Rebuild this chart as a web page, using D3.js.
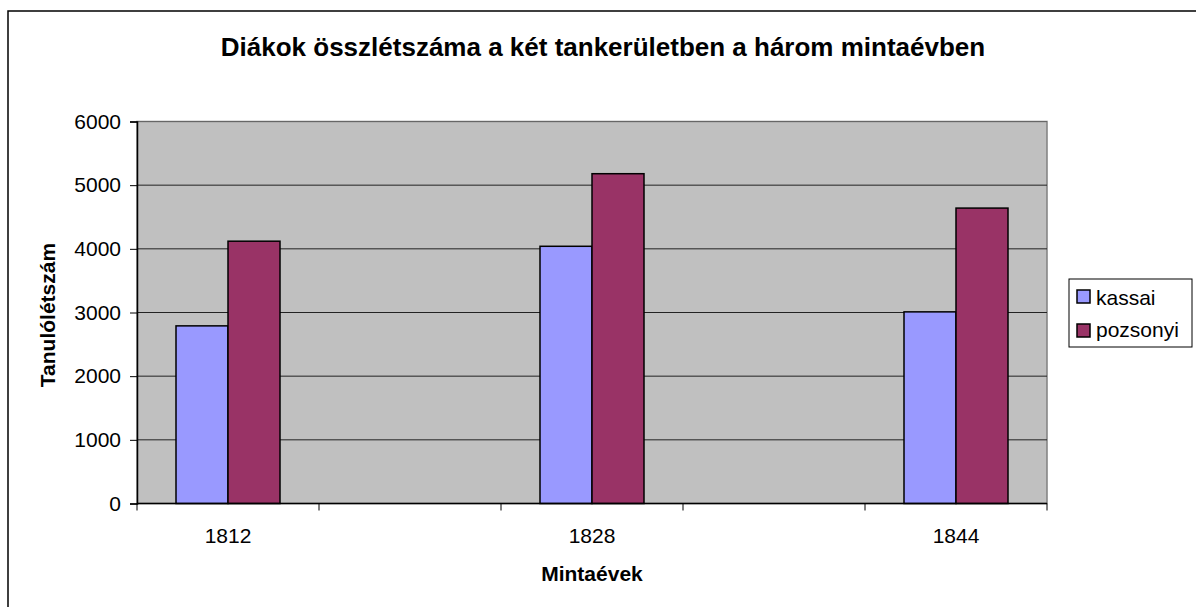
<!DOCTYPE html>
<html><head><meta charset="utf-8">
<script src="https://cdn.jsdelivr.net/npm/d3@7"></script>
<style>
html,body{margin:0;padding:0;background:#fff;}
svg{display:block;font-family:"Liberation Sans",Arial,sans-serif;}
</style></head>
<body><svg id="c" width="1196" height="607"></svg>
<script>
const title = "Diákok összlétszáma a két tankerületben a három mintaévben";
const xTitle = "Mintaévek";
const yTitle = "Tanulólétszám";
const categories = ["1812", "", "1828", "", "1844"];
const seriesNames = ["kassai", "pozsonyi"];
const kassai = [2790, null, 4040, null, 3010];
const pozsonyi = [4120, null, 5180, null, 4640];
const yTicks = [0, 1000, 2000, 3000, 4000, 5000, 6000];
const colors = ["#9999FF", "#993366"];

const svg = d3.select("#c");
const L = 137, R = 1047, T = 121.5, B = 503.5;
const FS = 21;

svg.append("rect").attr("x", 8).attr("y", 11).attr("width", 1300).attr("height", 700)
  .attr("fill", "#fff").attr("stroke", "#000").attr("stroke-width", 1.5);

const x0 = d3.scaleBand().domain(d3.range(categories.length)).range([L, R]);
const bw = x0.bandwidth();
const x1 = d3.scaleBand().domain(seriesNames).range([bw * 0.75 / 3.5, bw * 2.75 / 3.5]);
const y = d3.scaleLinear().domain([0, 6000]).range([B, T]);

svg.append("rect").attr("x", L).attr("y", T).attr("width", R - L).attr("height", B - T)
  .attr("fill", "#C0C0C0").attr("stroke", "#808080").attr("stroke-width", 1.5);

svg.append("g").selectAll("line").data(yTicks.filter(d => d > 0 && d < 6000)).join("line")
  .attr("x1", L).attr("x2", R).attr("y1", d => y(d)).attr("y2", d => y(d))
  .attr("stroke", "#222").attr("stroke-width", 1);
svg.append("line").attr("x1", L).attr("x2", R).attr("y1", y(6000)).attr("y2", y(6000))
  .attr("stroke", "#666").attr("stroke-width", 1.2);

const data = [];
categories.forEach((c, i) => {
  [kassai, pozsonyi].forEach((arr, j) => {
    if (arr[i] != null) data.push({ i, s: seriesNames[j], v: arr[i], c: colors[j] });
  });
});
svg.append("g").selectAll("rect").data(data).join("rect")
  .attr("x", d => x0(d.i) + x1(d.s)).attr("width", x1.bandwidth())
  .attr("y", d => y(d.v)).attr("height", d => y(0) - y(d.v))
  .attr("fill", d => d.c).attr("stroke", "#000").attr("stroke-width", 1.5);

// y axis
const ya = svg.append("g").attr("transform", `translate(${L},0)`)
  .call(d3.axisLeft(y).tickValues(yTicks).tickSize(7).tickPadding(9).tickFormat(d3.format("d")));
ya.select(".domain").attr("stroke", "#000").attr("stroke-width", 1.5);
ya.selectAll(".tick line").attr("stroke", "#000");
ya.selectAll("text").attr("font-size", FS).attr("font-family", "Liberation Sans, Arial, sans-serif").attr("fill", "#000");

// x axis
const xa = svg.append("g").attr("transform", `translate(0,${B})`);
xa.append("line").attr("x1", L).attr("x2", R).attr("stroke", "#000").attr("stroke-width", 1.5);
const bounds = d3.range(categories.length + 1).map(i => i < categories.length ? x0(i) : R);
xa.selectAll(".tk").data(bounds).join("line").attr("class", "tk")
  .attr("x1", d => d).attr("x2", d => d).attr("y1", 0).attr("y2", 7).attr("stroke", "#000");
xa.selectAll("text").data(categories.map((c, i) => ({ c, i })).filter(d => d.c)).join("text")
  .attr("x", d => x0(d.i) + bw / 2).attr("y", 39.5).attr("text-anchor", "middle")
  .attr("font-size", FS).text(d => d.c);

svg.append("text").attr("x", 603).attr("y", 56).attr("text-anchor", "middle")
  .attr("font-size", 26).attr("font-weight", "bold").text(title);
svg.append("text").attr("x", 592).attr("y", 581).attr("text-anchor", "middle")
  .attr("font-size", FS).attr("font-weight", "bold").text(xTitle);
svg.append("text").attr("transform", "translate(55,315) rotate(-90)").attr("text-anchor", "middle")
  .attr("font-size", FS).attr("font-weight", "bold").text(yTitle);

// legend
const lg = svg.append("g");
lg.append("rect").attr("x", 1069).attr("y", 279).attr("width", 123).attr("height", 68)
  .attr("fill", "#fff").attr("stroke", "#000").attr("stroke-width", 1);
seriesNames.forEach((s, j) => {
  lg.append("rect").attr("x", 1077).attr("y", 290 + j * 34).attr("width", 13).attr("height", 13)
    .attr("fill", colors[j]).attr("stroke", "#000").attr("stroke-width", 1.5);
  lg.append("text").attr("x", 1096).attr("y", 305 + j * 32).attr("font-size", FS).text(s);
});
</script></body></html>
